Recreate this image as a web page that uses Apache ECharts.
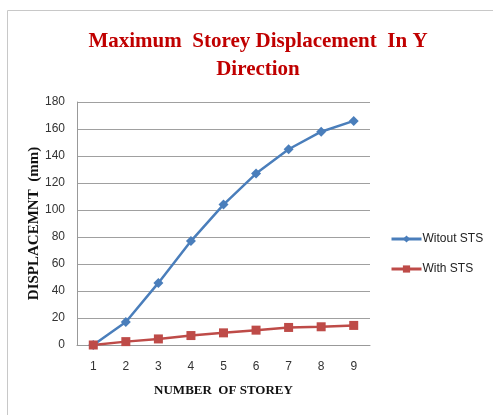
<!DOCTYPE html>
<html>
<head>
<meta charset="utf-8">
<script src="https://cdn.jsdelivr.net/npm/echarts@6/dist/echarts.min.js"></script>
<style>
  html, body { margin: 0; padding: 0; background: #fff; }
  #chart { width: 493px; height: 415px; }
</style>
</head>
<body>
<div id="chart"></div>
<script>
var storeys = ['1', '2', '3', '4', '5', '6', '7', '8', '9'];
var withoutSTS = [0, 17, 46, 77, 104, 127, 145, 158, 166];
var withSTS = [0, 2.5, 4.5, 7, 9, 11, 13, 13.5, 14.5];

var myChart = echarts.init(document.getElementById('chart'));

var option = {
    animation: false,
    graphic: [{
        type: 'rect',
        shape: { x: 7.5, y: 10.5, width: 500, height: 420 },
        style: { fill: 'none', stroke: '#c8c8c8', lineWidth: 1 }
    }],
    title: {
        text: 'Maximum  Storey Displacement  In Y\nDirection',
        left: 253,
        top: 23,
        textAlign: 'center',
        textStyle: {
            fontFamily: 'Liberation Serif',
            fontWeight: 'bold',
            fontSize: 21,
            color: '#c00000',
            lineHeight: 28
        }
    },
    legend: {
        orient: 'vertical',
        left: 385,
        top: 228,
        itemWidth: 30,
        itemHeight: 9,
        itemGap: 18,
        lineStyle: { width: 3 },
        textStyle: { fontFamily: 'Liberation Sans', fontSize: 12, color: '#222', padding: [0, 0, 0, -4] },
        data: ['Witout STS', 'With STS']
    },
    grid: { left: 77, top: 102, width: 293, height: 243 },
    xAxis: {
        type: 'category',
        data: storeys,
        name: 'NUMBER  OF STOREY',
        nameLocation: 'middle',
        nameGap: 39,
        nameTextStyle: { fontFamily: 'Liberation Serif', fontWeight: 'bold', fontSize: 13, color: '#111' },
        axisLine: { lineStyle: { color: '#999' } },
        axisTick: { show: false },
        axisLabel: { fontFamily: 'Liberation Sans', fontSize: 12, color: '#333', margin: 16 }
    },
    yAxis: {
        type: 'value',
        min: 0,
        max: 180,
        interval: 20,
        name: 'DISPLACEMNT  (mm)',
        nameLocation: 'middle',
        nameGap: 35,
        nameMoveOverlap: false,
        nameTextStyle: { fontFamily: 'Liberation Serif', fontWeight: 'bold', fontSize: 15, color: '#111' },
        axisLine: { show: true, lineStyle: { color: '#999' } },
        axisTick: { show: false },
        axisLabel: { fontFamily: 'Liberation Sans', fontSize: 12, color: '#333', margin: 12 },
        splitLine: { lineStyle: { color: '#a0a0a0' } }
    },
    series: [{
        name: 'Witout STS',
        type: 'line',
        data: withoutSTS,
        symbol: 'diamond',
        symbolSize: 10,
        lineStyle: { color: '#4a7ebb', width: 2.5 },
        itemStyle: { color: '#4a7ebb' }
    }, {
        name: 'With STS',
        type: 'line',
        data: withSTS,
        symbol: 'rect',
        symbolSize: 9,
        lineStyle: { color: '#be4b48', width: 2.5 },
        itemStyle: { color: '#be4b48' }
    }]
};

myChart.setOption(option);
</script>
</body>
</html>
